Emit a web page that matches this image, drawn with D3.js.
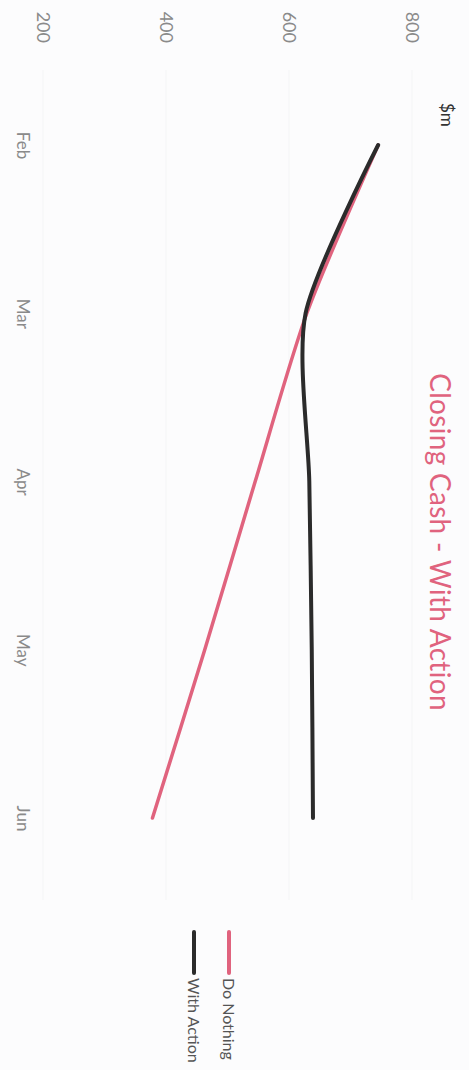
<!DOCTYPE html>
<html lang="en">
<head>
    <meta charset="UTF-8">
    <title>Closing Cash - With Action</title>
    <style>
        body { margin: 0; background: #fcfcfd; }
        text { font-family: Lato, "Open Sans", sans-serif; }
    </style>
</head>
<body>
<div id="chart"></div>

<script src="https://d3js.org/d3.v7.min.js"></script>

<script>
    // data
    var months = ["Feb", "Mar", "Apr", "May", "Jun"];
    var doNothing = [745, 629, 545, 463, 378];
    var withAction = [745, 627, 633, 637, 639];
    var valueTicks = [200, 400, 600, 800];
    var seriesNames = ["Do Nothing", "With Action"];
    var seriesColors = ["#e0637e", "#2b2b2b"];

    let page = {width: 469, height: 1070};

    var svg = d3.select("#chart").append("svg")
        .attr("width", page.width)
        .attr("height", page.height);

    // the chart is drawn sideways, so build it flat and turn it 90deg
    var g = svg.append("g")
        .attr("transform", "translate(" + page.width + ",0) rotate(90)");

    var x = d3.scalePoint().domain(months).range([145, 818]);
    var y = d3.scaleLinear().domain([200, 800]).range([426, 57]);

    // faint grid
    g.append("g").selectAll("line")
        .data(valueTicks).enter()
        .append("line")
        .attr("x1", 70).attr("x2", 900)
        .attr("y1", function (d) { return y(d); })
        .attr("y2", function (d) { return y(d); })
        .style("stroke", "#f4f5f6")
        .style("stroke-width", 1);

    // value axis
    var yAxis = g.append("g")
        .attr("transform", "translate(43,0)")
        .call(d3.axisLeft(y).tickValues(valueTicks).tickSize(0).tickPadding(0));
    yAxis.select(".domain").remove();
    yAxis.selectAll("text")
        .style("font-family", "Lato, sans-serif")
        .style("font-size", "18px")
        .style("fill", "#8a8a8a");

    // month axis
    var xAxis = g.append("g")
        .attr("transform", "translate(0,440)")
        .call(d3.axisBottom(x).tickSize(0).tickPadding(0));
    xAxis.select(".domain").remove();
    xAxis.selectAll("text")
        .style("font-family", "Lato, sans-serif")
        .style("font-size", "17px")
        .style("fill", "#8a8a8a");

    // unit label
    g.append("text")
        .attr("x", 103).attr("y", 28)
        .style("font-size", "17px")
        .style("fill", "#333")
        .text("$m");

    // title
    g.append("text")
        .attr("x", 542).attr("y", 39)
        .attr("text-anchor", "middle")
        .style("font-size", "28px")
        .style("letter-spacing", "0.3px")
        .style("fill", seriesColors[0])
        .text("Closing Cash - With Action");

    // lines
    var line = d3.line()
        .x(function (d, i) { return x(months[i]); })
        .y(function (d) { return y(d); })
        .curve(d3.curveCardinal.tension(0.25));

    g.append("path")
        .datum(doNothing)
        .attr("d", line)
        .style("fill", "none")
        .style("stroke", seriesColors[0])
        .style("stroke-width", 3.5)
        .style("stroke-linecap", "round");

    g.append("path")
        .datum(withAction)
        .attr("d", line)
        .style("fill", "none")
        .style("stroke", seriesColors[1])
        .style("stroke-width", 4)
        .style("stroke-linecap", "round");

    // legend
    var legend = g.append("g").selectAll("g")
        .data(seriesNames).enter()
        .append("g")
        .attr("transform", function (d, i) { return "translate(932," + (240 + i * 35) + ")"; });

    legend.append("line")
        .attr("x1", 0).attr("x2", 41)
        .style("stroke", function (d, i) { return seriesColors[i]; })
        .style("stroke-width", 4)
        .style("stroke-linecap", "round");

    legend.append("text")
        .attr("x", 46).attr("y", 6)
        .style("font-size", "16px")
        .style("fill", "#555")
        .text(function (d) { return d; });
</script>

</body>
</html>
